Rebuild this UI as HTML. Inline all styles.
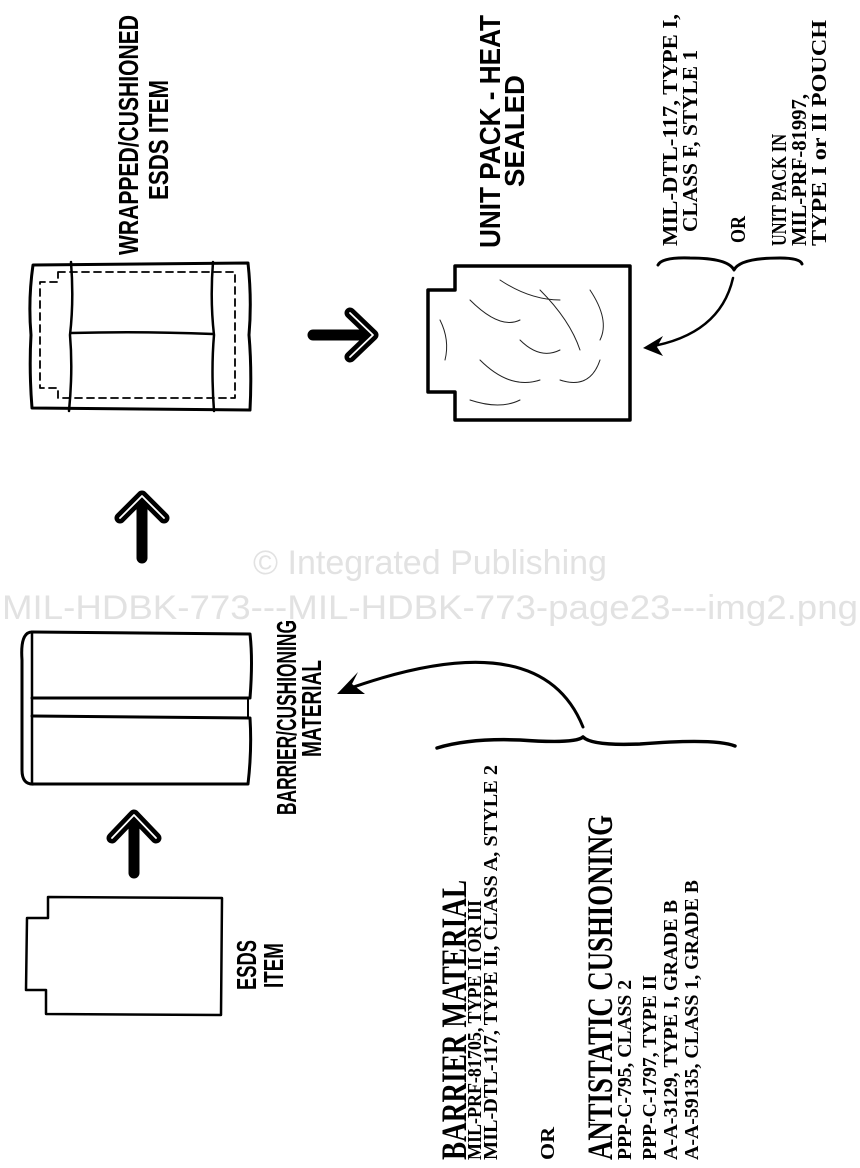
<!DOCTYPE html>
<html><head><meta charset="utf-8"><style>
html,body{margin:0;padding:0;background:#fff}
svg{display:block}
.h{font-family:"Liberation Sans Narrow","Liberation Sans",sans-serif;font-weight:bold;fill:#000}
.s{font-family:"Liberation Serif",serif;font-weight:bold;fill:#000}
.w{font-family:"Liberation Sans",sans-serif;fill:#e2e2e2}
</style></head><body>
<svg width="860" height="1168" viewBox="0 0 860 1168" xmlns="http://www.w3.org/2000/svg">
<rect width="860" height="1168" fill="#fff"/>
<g fill="none" stroke="#000" stroke-linejoin="round" stroke-linecap="round">
<path d="M33,265 L248,263 Q252,300 249,335 Q252,370 250,410 L32,408 Q29,370 31,335 Q28,300 33,265 Z" stroke-width="3"/>
<path d="M71,262 Q74,300 70,335 Q73,370 69,411" stroke-width="2.5"/>
<path d="M213,262 Q210,300 214,335 Q211,370 214,411" stroke-width="2.5"/>
<path d="M71,333 Q140,331 213,334" stroke-width="2.5"/>
<path d="M58,272 L235,272 L235,398 L58,398 L58,388 L40,388 L40,282 L58,282 Z" stroke-width="1.8" stroke-dasharray="7,5"/>
<path d="M455,266 L630,266 L630,420 L455,420 L455,392 L428,392 L428,290 L455,290 Z" stroke-width="3.5"/>
<g stroke-width="1" stroke="#222">
<path d="M470,300 Q500,330 520,320"/><path d="M540,290 Q570,320 580,350"/><path d="M480,360 Q510,390 540,380"/>
<path d="M560,380 Q590,390 600,360"/><path d="M500,280 Q530,300 560,300"/><path d="M470,400 Q500,410 520,400"/>
<path d="M590,290 Q610,320 600,340"/><path d="M520,340 Q540,360 560,350"/><path d="M440,320 Q450,340 445,360"/>
</g>
<path d="M32,632 L250,634 Q253,660 250,698 L32,698" stroke-width="3"/>
<path d="M32,716 L250,718 Q252,750 248,784 L32,784" stroke-width="3"/>
<path d="M32,632 Q20,632 22,660 L22,770 Q22,785 34,784" stroke-width="3"/>
<path d="M32,632 L32,784" stroke-width="2.5"/>
<path d="M248,698 L248,718" stroke-width="2"/>
<path d="M48,897 L222,898 L221,1015 L46,1014 L46,990 L26,990 L27,918 L48,918 Z" stroke-width="2.5"/>
<path d="M658,265 Q662,257 690,258 Q728,258 734,270 Q740,258 780,258 Q800,258 802,264" stroke-width="3"/>
<path d="M437,748 Q470,738 520,740 Q575,744 583,737 Q592,746 640,744 Q715,738 735,746" stroke-width="3.5"/>
<path d="M733,278 Q720,335 648,347" stroke-width="2.5"/>
<path d="M583,727 Q540,620 345,690" stroke-width="3"/>
</g>
<path d="M643,348 L663,336 L657,347 L663,356 Z" fill="#000"/>
<path d="M337,694 L358,672 L352,684 L365,694 Z" fill="#000"/>
<g fill="none" stroke-linecap="round" stroke-linejoin="round">
<g stroke="#000" stroke-width="11"><path d="M313,335 L372,335 M350,313 L373,335 L350,357"/><path d="M142,558 L142,498 M120,518 L142,496 L164,518"/><path d="M134,873 L134,817 M112,838 L134,815 L156,838"/></g>
<g stroke="#fff" stroke-width="1.8"><path d="M350,313 L373,335 L350,357"/><path d="M120,518 L142,496 L164,518"/><path d="M112,838 L134,815 L156,838"/></g>
</g>
<text class="w" x="430" y="574" font-size="34" text-anchor="middle">© Integrated Publishing</text>
<text class="w" x="430" y="619" font-size="34" text-anchor="middle" textLength="856" lengthAdjust="spacingAndGlyphs">MIL-HDBK-773---MIL-HDBK-773-page23---img2.png</text>
<text class="h" font-size="28" transform="translate(138,255) rotate(-90)" textLength="240" lengthAdjust="spacingAndGlyphs">WRAPPED/CUSHIONED</text>
<text class="h" font-size="28" transform="translate(168,200) rotate(-90)" textLength="120" lengthAdjust="spacingAndGlyphs">ESDS ITEM</text>
<text class="h" font-size="29" transform="translate(500,248) rotate(-90)" textLength="233" lengthAdjust="spacingAndGlyphs">UNIT PACK - HEAT</text>
<text class="h" font-size="28" transform="translate(524,187) rotate(-90)" textLength="112" lengthAdjust="spacingAndGlyphs">SEALED</text>
<text class="h" font-size="28" transform="translate(296,815) rotate(-90)" textLength="195" lengthAdjust="spacingAndGlyphs">BARRIER/CUSHIONING</text>
<text class="h" font-size="28" transform="translate(321,757) rotate(-90)" textLength="97" lengthAdjust="spacingAndGlyphs">MATERIAL</text>
<text class="h" font-size="28" transform="translate(256,990) rotate(-90)" textLength="50" lengthAdjust="spacingAndGlyphs">ESDS</text>
<text class="h" font-size="28" transform="translate(283,988) rotate(-90)" textLength="45" lengthAdjust="spacingAndGlyphs">ITEM</text>
<text class="s" font-size="21" transform="translate(677,246) rotate(-90)" textLength="232" lengthAdjust="spacingAndGlyphs">MIL-DTL-117, TYPE I,</text>
<text class="s" font-size="21" transform="translate(697,232) rotate(-90)" textLength="182" lengthAdjust="spacingAndGlyphs">CLASS F, STYLE 1</text>
<text class="s" font-size="21" transform="translate(745,243) rotate(-90)" textLength="27" lengthAdjust="spacingAndGlyphs">OR</text>
<text class="s" font-size="21" transform="translate(786,246) rotate(-90)" textLength="112" lengthAdjust="spacingAndGlyphs">UNIT PACK IN</text>
<text class="s" font-size="21" transform="translate(806,246) rotate(-90)" textLength="152" lengthAdjust="spacingAndGlyphs">MIL-PRF-81997,</text>
<text class="s" font-size="21" transform="translate(826,246) rotate(-90)" textLength="226" lengthAdjust="spacingAndGlyphs">TYPE I or II POUCH</text>
<text class="s" font-size="36" transform="translate(466,1160) rotate(-90)" textLength="280" lengthAdjust="spacingAndGlyphs">BARRIER MATERIAL</text>
<text class="s" font-size="20" transform="translate(481,1160) rotate(-90)" textLength="260" lengthAdjust="spacingAndGlyphs">MIL-PRF-81705, TYPE II OR III</text>
<text class="s" font-size="20" transform="translate(497,1160) rotate(-90)" textLength="395" lengthAdjust="spacingAndGlyphs">MIL-DTL-117, TYPE II, CLASS A, STYLE 2</text>
<text class="s" font-size="20" transform="translate(554,1160) rotate(-90)" textLength="33" lengthAdjust="spacingAndGlyphs">OR</text>
<text class="s" font-size="36" transform="translate(612,1160) rotate(-90)" textLength="345" lengthAdjust="spacingAndGlyphs">ANTISTATIC CUSHIONING</text>
<text class="s" font-size="20" transform="translate(631,1160) rotate(-90)" textLength="180" lengthAdjust="spacingAndGlyphs">PPP-C-795, CLASS 2</text>
<text class="s" font-size="20" transform="translate(656,1160) rotate(-90)" textLength="185" lengthAdjust="spacingAndGlyphs">PPP-C-1797, TYPE II</text>
<text class="s" font-size="20" transform="translate(677,1160) rotate(-90)" textLength="260" lengthAdjust="spacingAndGlyphs">A-A-3129, TYPE I, GRADE B</text>
<text class="s" font-size="20" transform="translate(698,1160) rotate(-90)" textLength="280" lengthAdjust="spacingAndGlyphs">A-A-59135, CLASS 1, GRADE B</text>
</svg>
</body></html>
